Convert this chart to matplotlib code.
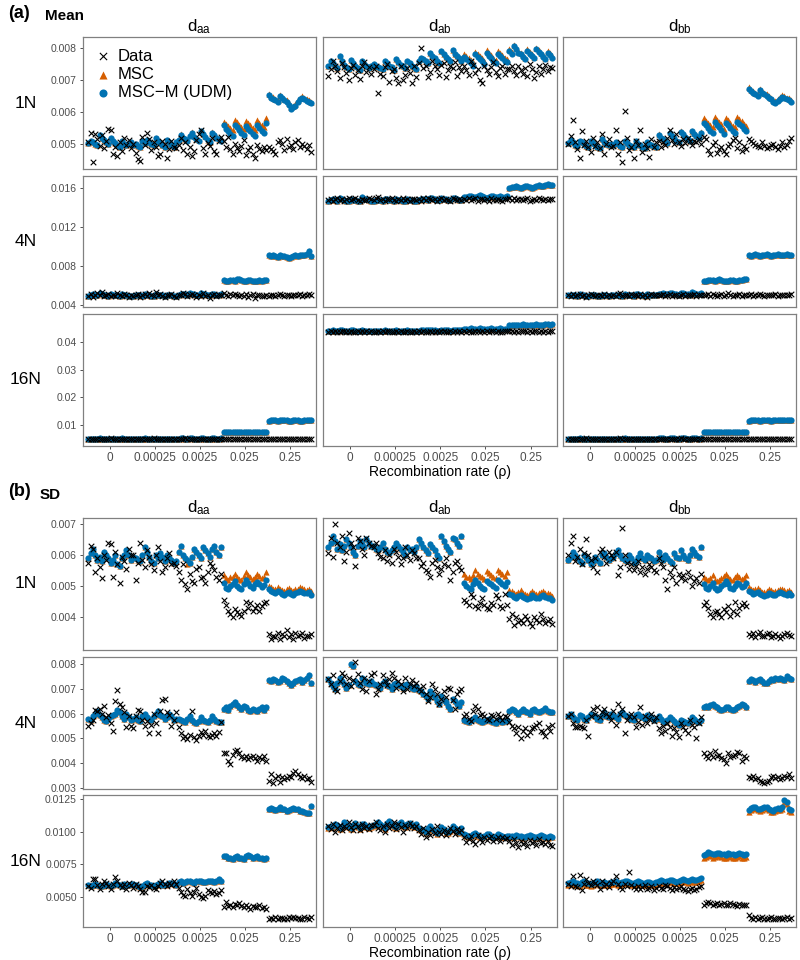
import numpy as np
import matplotlib
matplotlib.use("Agg")
import matplotlib.pyplot as plt

plt.rcParams['font.family'] = ['Liberation Sans', 'DejaVu Sans']
plt.rcParams['mathtext.default'] = 'regular'

groups = ['0', '0.00025', '0.0025', '0.025', '0.25']
n_per = 20
rows = ['1N', '4N', '16N']
cols = ['aa', 'ab', 'bb']

# values are in units of 1e-5, 20 points per recombination rate group

# ---------------- Mean ----------------
mean_1N_aa_data = [
    505, 535, 445, 532, 515, 495, 528, 488, 510, 548, 545, 470, 490, 462, 505, 478, 520, 497, 512, 486,
    500, 472, 452, 446, 523, 498, 535, 515, 480, 505, 490, 462, 470, 508, 500, 455, 485, 510, 492, 488,
    496, 520, 480, 505, 470, 490, 462, 478, 512, 530, 545, 488, 470, 502, 495, 520, 478, 468, 508, 522,
    510, 492, 522, 485, 470, 500, 488, 478, 495, 512, 465, 482, 490, 470, 455, 498, 485, 478, 490, 482,
    490, 485, 478, 470, 505, 512, 500, 480, 515, 492, 498, 485, 505, 512, 490, 500, 495, 485, 498, 475]
mean_1N_aa_mscm = [
    502, 510, 505, 500, 498, 528, 520, 512, 505, 500, 518, 510, 502, 496, 490, 508, 500, 496, 502, 505,
    496, 500, 495, 492, 508, 504, 512, 505, 500, 496, 520, 510, 502, 497, 490, 512, 505, 498, 492, 505,
    512, 528, 520, 515, 510, 525, 535, 522, 515, 510, 540, 530, 522, 512, 505, 535, 528, 520, 515, 510,
    558, 548, 540, 532, 525, 560, 552, 545, 535, 528, 555, 548, 540, 532, 524, 560, 550, 542, 535, 565,
    652, 645, 640, 638, 632, 650, 643, 637, 630, 622, 610, 615, 620, 632, 640, 645, 640, 635, 632, 628]
mean_1N_aa_msc = [
    502, 510, 505, 500, 498, 528, 520, 512, 505, 500, 518, 510, 502, 496, 490, 508, 500, 496, 502, 505,
    496, 500, 495, 492, 508, 504, 512, 505, 500, 496, 520, 510, 502, 497, 490, 512, 505, 498, 492, 505,
    514, 530, 522, 517, 512, 527, 537, 524, 517, 512, 542, 532, 524, 514, 507, 537, 530, 522, 517, 512,
    570, 562, 556, 550, 545, 575, 568, 560, 552, 548, 572, 565, 558, 550, 545, 575, 566, 560, 552, 582,
    656, 650, 646, 642, 638, 654, 648, 642, 636, 628, 616, 620, 626, 636, 644, 649, 645, 640, 636, 632]

mean_1N_ab_data = [
    712, 735, 760, 745, 728, 705, 752, 740, 722, 700, 738, 748, 715, 730, 702, 742, 755, 725, 740, 718,
    735, 745, 660, 720, 712, 740, 750, 695, 728, 735, 705, 690, 745, 700, 715, 738, 722, 690, 745, 710,
    752, 800, 738, 745, 710, 725, 760, 742, 735, 715, 748, 752, 708, 730, 745, 738, 755, 712, 740, 728,
    742, 730, 715, 760, 748, 722, 735, 700, 690, 745, 730, 718, 740, 755, 725, 712, 738, 745, 720, 735,
    735, 742, 728, 715, 745, 730, 720, 738, 712, 750, 735, 705, 725, 742, 718, 735, 748, 728, 740, 738]
mean_1N_ab_mscm = [
    745, 760, 752, 742, 738, 775, 758, 748, 740, 735, 762, 752, 745, 738, 730, 758, 750, 742, 738, 745,
    750, 745, 740, 738, 735, 758, 752, 745, 740, 732, 765, 755, 748, 742, 736, 760, 752, 745, 740, 735,
    760, 770, 765, 758, 752, 785, 775, 768, 760, 752, 790, 780, 772, 765, 758, 792, 782, 775, 768, 760,
    772, 765, 758, 752, 745, 780, 772, 765, 758, 750, 785, 776, 768, 760, 752, 782, 775, 768, 760, 755,
    790, 782, 805, 795, 785, 780, 772, 765, 790, 782, 775, 768, 795, 788, 780, 772, 765, 785, 778, 770]
mean_1N_ab_msc = [
    745, 760, 752, 742, 738, 775, 758, 748, 740, 735, 762, 752, 745, 738, 730, 758, 750, 742, 738, 745,
    750, 745, 740, 738, 735, 758, 752, 745, 740, 732, 765, 755, 748, 742, 736, 760, 752, 745, 740, 735,
    760, 770, 765, 758, 752, 785, 775, 768, 760, 752, 790, 780, 772, 765, 758, 792, 782, 775, 768, 760,
    780, 774, 768, 762, 756, 788, 781, 774, 767, 760, 793, 785, 777, 770, 762, 790, 784, 777, 770, 764,
    795, 787, 810, 800, 790, 785, 777, 770, 795, 787, 780, 773, 800, 793, 785, 777, 770, 790, 783, 775]

mean_1N_bb_data = [
    500, 525, 575, 505, 485, 455, 540, 498, 510, 490, 475, 520, 495, 505, 488, 530, 470, 500, 515, 492,
    495, 545, 470, 505, 445, 603, 520, 480, 492, 455, 510, 498, 545, 475, 500, 488, 460, 515, 490, 505,
    510, 492, 505, 498, 520, 545, 512, 500, 530, 505, 495, 515, 502, 520, 508, 498, 510, 505, 515, 500,
    522, 515, 480, 470, 498, 505, 472, 485, 490, 478, 468, 495, 500, 512, 520, 488, 505, 478, 495, 485,
    515, 508, 502, 498, 495, 490, 505, 495, 488, 492, 498, 500, 490, 485, 495, 505, 492, 498, 510, 520]
mean_1N_bb_mscm = [
    502, 512, 505, 498, 495, 510, 505, 500, 495, 492, 508, 502, 498, 492, 488, 515, 505, 500, 496, 500,
    498, 505, 500, 495, 492, 510, 502, 498, 494, 490, 508, 500, 496, 492, 488, 505, 500, 497, 494, 492,
    528, 520, 515, 508, 502, 535, 525, 518, 510, 505, 538, 530, 522, 515, 508, 540, 532, 525, 518, 535,
    565, 558, 550, 542, 535, 568, 560, 552, 545, 530, 565, 558, 550, 540, 535, 570, 562, 555, 548, 540,
    672, 665, 660, 655, 650, 668, 660, 655, 650, 645, 640, 632, 628, 635, 642, 648, 645, 640, 638, 632]
mean_1N_bb_msc = [
    502, 512, 505, 498, 495, 510, 505, 500, 495, 492, 508, 502, 498, 492, 488, 515, 505, 500, 496, 500,
    498, 505, 500, 495, 492, 510, 502, 498, 494, 490, 508, 500, 496, 492, 488, 505, 500, 497, 494, 492,
    530, 522, 517, 510, 504, 537, 527, 520, 512, 507, 540, 532, 524, 517, 510, 542, 534, 527, 520, 537,
    580, 573, 566, 558, 552, 583, 576, 568, 561, 548, 580, 574, 566, 557, 552, 585, 577, 571, 564, 556,
    677, 670, 665, 660, 655, 673, 665, 660, 655, 650, 645, 637, 633, 640, 647, 653, 650, 645, 643, 637]

mean_4N_aa_data = [
    495, 510, 485, 505, 520, 498, 530, 490, 502, 515, 488, 508, 495, 520, 505, 490, 512, 498, 485, 505,
    490, 505, 515, 480, 498, 510, 492, 520, 505, 488, 530, 500, 512, 495, 485, 505, 498, 510, 490, 480,
    505, 498, 520, 512, 490, 505, 515, 498, 485, 508, 495, 520, 488, 502, 470, 498, 510, 492, 505, 498,
    520, 505, 495, 510, 498, 515, 502, 490, 508, 495, 512, 485, 500, 510, 475, 505, 498, 492, 488, 502,
    495, 500, 505, 490, 498, 510, 502, 495, 505, 500, 492, 508, 498, 502, 512, 495, 500, 505, 510, 498]
mean_4N_aa_mscm = [
    490, 500, 510, 505, 498, 520, 512, 505, 500, 495, 515, 508, 502, 498, 492, 510, 505, 500, 496, 490,
    495, 502, 505, 498, 492, 510, 505, 500, 495, 490, 512, 506, 502, 498, 494, 508, 502, 498, 495, 492,
    505, 510, 515, 512, 508, 520, 516, 510, 505, 500, 522, 515, 510, 505, 502, 518, 512, 508, 505, 510,
    655, 645, 650, 660, 652, 648, 665, 670, 658, 650, 645, 660, 655, 648, 642, 650, 655, 648, 652, 660,
    915, 905, 910, 900, 895, 908, 902, 898, 890, 885, 895, 905, 910, 900, 915, 908, 912, 920, 955, 905]

mean_4N_ab_data = [
    1475, 1490, 1465, 1485, 1500, 1478, 1492, 1470, 1488, 1495, 1472, 1485, 1498, 1480, 1468, 1490, 1482, 1475, 1495, 1485,
    1480, 1495, 1510, 1475, 1488, 1470, 1492, 1485, 1500, 1478, 1468, 1490, 1482, 1495, 1475, 1488, 1470, 1485, 1492, 1478,
    1485, 1470, 1495, 1480, 1500, 1488, 1475, 1492, 1468, 1485, 1498, 1478, 1490, 1482, 1470, 1495, 1485, 1478, 1490, 1475,
    1490, 1480, 1495, 1475, 1488, 1500, 1470, 1485, 1492, 1478, 1488, 1465, 1495, 1482, 1475, 1490, 1480, 1470, 1488, 1485,
    1495, 1480, 1500, 1478, 1488, 1492, 1475, 1485, 1498, 1470, 1482, 1490, 1478, 1495, 1485, 1472, 1488, 1480, 1492, 1485]
mean_4N_ab_mscm = [
    1470, 1480, 1488, 1475, 1465, 1495, 1485, 1478, 1470, 1462, 1490, 1482, 1475, 1470, 1465, 1505, 1492, 1485, 1478, 1470,
    1468, 1475, 1482, 1478, 1470, 1490, 1485, 1478, 1472, 1465, 1488, 1480, 1475, 1470, 1466, 1485, 1480, 1475, 1470, 1468,
    1478, 1485, 1492, 1488, 1480, 1500, 1495, 1488, 1482, 1476, 1498, 1492, 1485, 1480, 1475, 1502, 1495, 1488, 1482, 1478,
    1510, 1505, 1515, 1520, 1512, 1505, 1518, 1525, 1515, 1508, 1502, 1512, 1520, 1515, 1505, 1510, 1518, 1512, 1508, 1515,
    1605, 1615, 1610, 1620, 1612, 1600, 1608, 1618, 1625, 1615, 1605, 1612, 1622, 1630, 1618, 1625, 1635, 1640, 1628, 1632]

mean_4N_bb_data = [
    500, 488, 510, 495, 505, 518, 492, 502, 485, 498, 512, 505, 490, 500, 508, 495, 515, 488, 502, 496,
    505, 495, 512, 520, 488, 500, 508, 492, 515, 498, 502, 490, 510, 495, 505, 485, 500, 512, 498, 505,
    498, 505, 510, 492, 500, 515, 488, 502, 508, 495, 500, 512, 490, 505, 498, 502, 510, 495, 500, 508,
    505, 498, 510, 492, 515, 500, 488, 505, 510, 495, 502, 520, 498, 490, 505, 500, 512, 495, 502, 498,
    500, 510, 495, 505, 498, 512, 502, 495, 508, 500, 505, 498, 510, 495, 502, 508, 500, 505, 498, 510]
mean_4N_bb_mscm = [
    500, 505, 498, 502, 495, 510, 506, 500, 496, 492, 508, 502, 498, 495, 490, 505, 502, 498, 495, 500,
    502, 508, 505, 500, 496, 512, 508, 502, 498, 495, 515, 510, 505, 500, 496, 510, 506, 502, 498, 505,
    510, 518, 522, 515, 510, 525, 520, 515, 510, 505, 528, 522, 516, 512, 508, 530, 524, 518, 512, 520,
    650, 645, 655, 660, 652, 645, 658, 665, 655, 648, 642, 650, 658, 652, 645, 650, 655, 660, 668, 662,
    912, 905, 915, 920, 910, 902, 908, 915, 922, 912, 905, 910, 918, 925, 915, 908, 912, 920, 915, 908]

mean_16N_aa_data = [
    498, 505, 492, 510, 500, 495, 508, 502, 490, 505, 512, 498, 502, 495, 508, 500, 492, 505, 498, 510,
    502, 495, 510, 498, 505, 490, 500, 508, 495, 512, 500, 492, 505, 498, 510, 502, 495, 500, 505, 498,
    505, 498, 500, 512, 495, 502, 508, 490, 505, 500, 498, 510, 502, 495, 505, 500, 508, 498, 502, 495,
    500, 508, 495, 502, 490, 505, 498, 510, 500, 495, 505, 492, 500, 508, 498, 502, 495, 505, 500, 498,
    502, 498, 505, 495, 500, 508, 492, 502, 498, 505, 500, 495, 510, 498, 502, 505, 495, 500, 498, 505]
mean_16N_aa_mscm = [
    505, 510, 508, 502, 500, 512, 508, 505, 500, 498, 510, 506, 502, 500, 498, 512, 508, 504, 500, 505,
    502, 506, 510, 505, 500, 512, 508, 504, 500, 498, 510, 506, 503, 500, 497, 508, 505, 502, 500, 504,
    510, 515, 512, 508, 505, 518, 514, 510, 506, 502, 520, 515, 510, 506, 503, 518, 514, 510, 506, 512,
    740, 730, 745, 750, 740, 735, 748, 755, 742, 735, 730, 740, 748, 745, 738, 742, 750, 745, 738, 732,
    1160, 1165, 1170, 1165, 1158, 1162, 1168, 1172, 1165, 1160, 1155, 1162, 1168, 1165, 1160, 1158, 1165, 1170, 1180, 1185]

mean_16N_ab_data = [
    4370, 4385, 4360, 4390, 4375, 4355, 4380, 4395, 4365, 4370, 4388, 4360, 4375, 4392, 4368, 4380, 4362, 4385, 4372, 4378,
    4375, 4360, 4390, 4368, 4382, 4355, 4378, 4395, 4365, 4372, 4385, 4360, 4390, 4375, 4368, 4382, 4358, 4375, 4388, 4370,
    4380, 4365, 4392, 4372, 4360, 4385, 4375, 4368, 4395, 4362, 4378, 4388, 4370, 4355, 4382, 4375, 4390, 4365, 4380, 4372,
    4385, 4370, 4395, 4375, 4362, 4390, 4380, 4368, 4400, 4372, 4385, 4360, 4392, 4378, 4370, 4388, 4375, 4365, 4382, 4390,
    4380, 4395, 4370, 4388, 4362, 4392, 4378, 4400, 4368, 4385, 4372, 4395, 4380, 4365, 4390, 4375, 4385, 4370, 4392, 4378]
mean_16N_ab_mscm = [
    4395, 4410, 4420, 4405, 4390, 4425, 4415, 4405, 4395, 4385, 4430, 4418, 4405, 4395, 4388, 4420, 4410, 4400, 4392, 4400,
    4390, 4402, 4412, 4405, 4395, 4420, 4410, 4400, 4392, 4385, 4418, 4410, 4400, 4392, 4386, 4415, 4405, 4398, 4390, 4395,
    4410, 4420, 4430, 4425, 4415, 4440, 4430, 4420, 4412, 4405, 4445, 4435, 4425, 4415, 4408, 4440, 4430, 4422, 4415, 4425,
    4470, 4460, 4480, 4490, 4475, 4465, 4485, 4495, 4480, 4470, 4460, 4478, 4490, 4482, 4470, 4475, 4488, 4480, 4472, 4485,
    4600, 4615, 4625, 4610, 4600, 4620, 4635, 4625, 4610, 4600, 4615, 4630, 4640, 4625, 4615, 4620, 4635, 4650, 4630, 4640]

mean_16N_bb_data = [
    505, 495, 510, 500, 492, 508, 498, 502, 512, 495, 500, 505, 490, 502, 508, 498, 505, 495, 500, 510,
    498, 505, 500, 512, 495, 502, 508, 490, 505, 500, 495, 510, 502, 498, 505, 492, 500, 508, 498, 502,
    500, 510, 495, 505, 498, 502, 490, 508, 500, 505, 512, 495, 500, 505, 498, 502, 495, 510, 500, 505,
    495, 502, 508, 498, 505, 500, 492, 505, 510, 498, 500, 505, 495, 502, 508, 500, 498, 505, 492, 500,
    500, 505, 498, 502, 495, 510, 500, 498, 505, 492, 502, 508, 500, 495, 505, 500, 510, 498, 502, 495]
mean_16N_bb_mscm = [
    508, 505, 502, 500, 498, 512, 508, 504, 500, 497, 510, 506, 502, 499, 496, 510, 506, 502, 500, 504,
    500, 505, 508, 504, 500, 512, 507, 503, 500, 496, 510, 505, 502, 498, 495, 508, 504, 500, 498, 502,
    512, 516, 514, 510, 506, 520, 516, 512, 508, 504, 522, 517, 512, 508, 505, 520, 516, 512, 508, 515,
    735, 745, 750, 742, 738, 748, 755, 745, 738, 732, 740, 750, 745, 738, 735, 742, 748, 752, 745, 738,
    1155, 1162, 1168, 1175, 1165, 1158, 1162, 1170, 1178, 1168, 1160, 1165, 1172, 1180, 1170, 1162, 1168, 1175, 1182, 1170]

# ---------------- SD ----------------
sd_1N_aa_data = [
    575, 630, 620, 545, 590, 560, 525, 600, 585, 640, 635, 530, 610, 570, 510, 595, 580, 555, 620, 600,
    600, 520, 575, 640, 585, 560, 615, 595, 570, 550, 600, 625, 580, 545, 560, 590, 605, 570, 575, 565,
    545, 520, 570, 505, 490, 540, 515, 510, 555, 560, 525, 530, 510, 545, 575, 565, 550, 530, 520, 540,
    455, 440, 420, 410, 400, 425, 415, 410, 405, 420, 450, 430, 445, 418, 428, 440, 420, 435, 445, 448,
    345, 330, 340, 335, 350, 330, 345, 340, 360, 335, 345, 330, 350, 338, 342, 348, 332, 340, 338, 345]
sd_1N_aa_mscm = [
    590, 605, 620, 600, 585, 595, 580, 610, 600, 590, 575, 585, 600, 570, 565, 590, 600, 615, 600, 585,
    595, 590, 585, 580, 600, 625, 610, 595, 580, 575, 600, 590, 605, 595, 580, 600, 590, 585, 575, 580,
    610, 630, 600, 590, 585, 575, 595, 620, 610, 600, 590, 625, 615, 605, 595, 620, 630, 610, 600, 625,
    510, 495, 490, 500, 505, 515, 500, 495, 490, 505, 520, 510, 500, 495, 505, 512, 505, 498, 502, 520,
    490, 485, 480, 478, 485, 480, 475, 470, 478, 482, 475, 470, 478, 480, 485, 482, 478, 476, 480, 472]
sd_1N_aa_msc = [
    590, 605, 620, 600, 585, 595, 580, 610, 600, 590, 575, 585, 600, 570, 565, 590, 600, 615, 600, 585,
    595, 590, 585, 580, 600, 625, 610, 595, 580, 575, 600, 590, 605, 595, 580, 600, 590, 585, 575, 580,
    610, 630, 600, 590, 570, 575, 595, 620, 610, 600, 590, 625, 615, 605, 595, 620, 630, 610, 600, 625,
    535, 525, 520, 528, 530, 540, 530, 522, 518, 532, 545, 535, 528, 522, 530, 538, 532, 525, 528, 545,
    500, 496, 492, 490, 496, 492, 488, 484, 490, 494, 488, 484, 490, 492, 496, 494, 490, 488, 492, 485]

sd_1N_ab_data = [
    605, 655, 595, 700, 640, 625, 660, 580, 610, 670, 640, 625, 565, 655, 645, 620, 600, 655, 640, 630,
    625, 640, 605, 595, 590, 615, 580, 600, 575, 620, 610, 595, 570, 590, 625, 600, 585, 615, 605, 590,
    590, 565, 575, 550, 545, 530, 575, 585, 560, 540, 555, 570, 590, 565, 520, 545, 575, 580, 560, 550,
    455, 450, 440, 475, 465, 435, 430, 445, 460, 440, 430, 425, 445, 438, 470, 460, 435, 428, 475, 440,
    395, 410, 375, 400, 385, 390, 380, 405, 395, 380, 370, 400, 392, 385, 410, 395, 380, 388, 395, 378]
sd_1N_ab_mscm = [
    625, 640, 660, 645, 620, 635, 615, 630, 650, 640, 625, 610, 600, 630, 645, 635, 625, 650, 640, 630,
    630, 620, 615, 625, 640, 620, 610, 605, 615, 625, 640, 630, 620, 610, 600, 625, 615, 620, 610, 625,
    650, 640, 625, 615, 605, 635, 625, 615, 600, 590, 660, 645, 630, 620, 610, 655, 650, 640, 630, 660,
    510, 500, 495, 490, 505, 520, 510, 500, 495, 490, 515, 510, 505, 500, 495, 520, 512, 505, 500, 512,
    475, 470, 465, 462, 468, 472, 465, 460, 458, 462, 470, 465, 460, 462, 468, 470, 465, 462, 460, 455]
sd_1N_ab_msc = [
    625, 640, 660, 645, 620, 635, 615, 630, 650, 640, 625, 610, 600, 630, 645, 635, 625, 650, 640, 630,
    630, 620, 615, 625, 640, 620, 610, 605, 615, 625, 640, 630, 620, 610, 600, 625, 615, 620, 610, 625,
    650, 640, 625, 615, 605, 635, 625, 615, 600, 590, 660, 645, 630, 620, 610, 655, 650, 640, 630, 660,
    540, 530, 528, 522, 535, 550, 540, 532, 528, 522, 548, 542, 536, 530, 526, 552, 545, 538, 532, 545,
    488, 483, 478, 475, 482, 486, 478, 474, 472, 476, 484, 478, 474, 476, 482, 484, 478, 476, 474, 468]

sd_1N_bb_data = [
    600, 640, 660, 580, 595, 620, 570, 605, 650, 600, 585, 560, 590, 545, 610, 620, 595, 575, 610, 600,
    590, 610, 535, 560, 688, 600, 575, 555, 570, 550, 565, 580, 545, 560, 540, 555, 570, 560, 550, 545,
    590, 575, 560, 520, 490, 545, 530, 560, 510, 540, 525, 535, 520, 545, 530, 500, 515, 525, 510, 540,
    440, 450, 430, 410, 400, 415, 420, 410, 400, 425, 415, 435, 405, 420, 450, 410, 430, 440, 445, 435,
    345, 340, 350, 335, 345, 352, 340, 338, 345, 350, 335, 340, 345, 338, 332, 340, 345, 350, 342, 338]
sd_1N_bb_mscm = [
    585, 595, 610, 600, 590, 580, 575, 600, 595, 585, 570, 580, 595, 585, 575, 600, 605, 595, 585, 590,
    595, 605, 615, 600, 590, 585, 580, 600, 590, 575, 580, 595, 605, 590, 585, 600, 595, 590, 580, 585,
    610, 595, 585, 600, 590, 580, 575, 605, 595, 590, 615, 600, 590, 585, 600, 620, 610, 600, 595, 625,
    505, 495, 490, 500, 510, 495, 488, 492, 500, 505, 515, 505, 495, 490, 500, 510, 505, 498, 500, 510,
    485, 480, 475, 478, 482, 475, 470, 468, 472, 478, 475, 470, 472, 476, 480, 478, 474, 472, 476, 470]
sd_1N_bb_msc = [
    585, 595, 610, 600, 590, 580, 575, 600, 595, 585, 570, 580, 595, 585, 575, 600, 605, 595, 585, 590,
    595, 605, 615, 600, 590, 585, 580, 600, 590, 575, 580, 595, 605, 590, 585, 600, 595, 590, 580, 585,
    610, 595, 585, 600, 590, 580, 575, 605, 595, 590, 615, 600, 590, 585, 600, 620, 610, 600, 595, 625,
    530, 522, 518, 526, 535, 520, 515, 518, 527, 532, 540, 530, 522, 518, 528, 536, 530, 524, 527, 535,
    497, 492, 488, 490, 494, 488, 482, 480, 485, 490, 488, 482, 485, 488, 492, 490, 486, 485, 488, 482]

sd_4N_aa_data = [
    550, 560, 575, 615, 610, 620, 600, 630, 585, 595, 560, 530, 650, 695, 640, 625, 605, 545, 590, 550,
    540, 590, 615, 610, 575, 550, 570, 520, 555, 600, 560, 520, 610, 655, 660, 605, 595, 548, 575, 605,
    545, 520, 502, 510, 498, 512, 610, 505, 495, 508, 525, 515, 530, 510, 505, 515, 520, 510, 525, 565,
    440, 440, 410, 395, 435, 450, 455, 440, 425, 420, 430, 415, 425, 430, 420, 410, 425, 415, 430, 410,
    330, 355, 320, 340, 350, 325, 345, 335, 340, 350, 345, 360, 370, 355, 345, 340, 350, 335, 340, 325]
sd_4N_aa_mscm = [
    580, 575, 590, 600, 610, 595, 585, 575, 570, 580, 590, 595, 600, 615, 605, 590, 580, 600, 585, 575,
    580, 585, 575, 570, 590, 600, 585, 580, 575, 590, 600, 610, 595, 590, 580, 585, 600, 590, 575, 580,
    580, 575, 570, 565, 580, 590, 575, 565, 560, 570, 585, 575, 570, 565, 575, 590, 580, 570, 565, 565,
    620, 625, 615, 630, 640, 645, 635, 625, 620, 630, 625, 615, 610, 620, 615, 610, 620, 625, 615, 625,
    735, 730, 740, 735, 728, 732, 745, 738, 730, 725, 715, 722, 730, 735, 740, 728, 735, 745, 755, 725]

sd_4N_ab_data = [
    740, 720, 755, 700, 690, 730, 765, 750, 720, 745, 710, 735, 808, 760, 725, 700, 745, 690, 730, 755,
    765, 680, 700, 720, 755, 730, 715, 740, 765, 745, 705, 730, 720, 690, 745, 700, 720, 735, 710, 725,
    700, 690, 710, 680, 650, 665, 720, 700, 680, 640, 660, 690, 665, 705, 700, 655, 620, 680, 690, 700,
    590, 600, 580, 570, 610, 630, 620, 595, 600, 590, 580, 575, 595, 590, 580, 600, 585, 575, 590, 585,
    565, 550, 540, 520, 545, 500, 530, 540, 515, 525, 540, 545, 555, 560, 530, 525, 510, 545, 530, 555]
sd_4N_ab_mscm = [
    740, 725, 710, 700, 725, 745, 730, 720, 705, 715, 800, 790, 730, 720, 715, 745, 735, 725, 720, 730,
    720, 715, 710, 705, 725, 730, 715, 710, 700, 720, 725, 715, 710, 705, 715, 720, 710, 705, 700, 710,
    695, 690, 680, 670, 660, 690, 680, 665, 650, 640, 670, 655, 645, 630, 620, 660, 650, 640, 630, 645,
    575, 570, 565, 575, 580, 585, 575, 570, 565, 570, 575, 580, 570, 565, 560, 575, 570, 565, 570, 575,
    610, 620, 615, 605, 600, 612, 618, 610, 605, 600, 615, 620, 612, 605, 610, 615, 622, 610, 608, 605]

sd_4N_bb_data = [
    590, 600, 560, 545, 545, 550, 545, 540, 575, 510, 590, 620, 600, 625, 585, 605, 620, 600, 590, 575,
    610, 555, 640, 600, 620, 520, 575, 590, 600, 585, 545, 565, 625, 555, 590, 560, 580, 600, 570, 585,
    540, 520, 550, 530, 560, 545, 510, 540, 525, 505, 560, 545, 535, 520, 575, 555, 545, 500, 560, 585,
    440, 430, 420, 440, 425, 450, 430, 435, 420, 415, 400, 440, 425, 430, 435, 445, 440, 410, 430, 420,
    345, 340, 350, 335, 340, 330, 325, 320, 325, 330, 345, 350, 340, 345, 335, 340, 350, 345, 355, 340]
sd_4N_bb_mscm = [
    590, 600, 585, 580, 575, 595, 590, 580, 575, 585, 600, 595, 590, 580, 575, 595, 605, 590, 585, 600,
    590, 585, 580, 600, 605, 595, 590, 585, 580, 575, 595, 600, 590, 585, 580, 595, 590, 585, 575, 580,
    590, 580, 570, 565, 575, 585, 580, 570, 560, 555, 575, 570, 565, 560, 570, 585, 580, 570, 565, 575,
    625, 630, 628, 635, 640, 630, 625, 620, 615, 620, 628, 625, 620, 615, 620, 628, 632, 640, 635, 625,
    730, 740, 735, 728, 735, 740, 732, 725, 722, 730, 738, 735, 742, 738, 745, 740, 735, 750, 745, 738]

sd_16N_aa_data = [
    585, 570, 640, 640, 590, 560, 600, 620, 605, 580, 560, 600, 655, 620, 590, 575, 600, 560, 610, 595,
    570, 600, 585, 560, 540, 540, 580, 575, 595, 570, 560, 585, 605, 625, 600, 580, 605, 595, 620, 600,
    570, 540, 515, 505, 560, 530, 505, 540, 570, 520, 500, 490, 510, 555, 540, 530, 545, 520, 530, 555,
    420, 465, 430, 440, 420, 445, 435, 450, 430, 425, 440, 420, 410, 430, 425, 420, 440, 415, 425, 410,
    335, 340, 330, 345, 335, 338, 342, 330, 335, 345, 340, 350, 338, 342, 335, 330, 345, 340, 335, 345]
sd_16N_aa_mscm = [
    590, 585, 595, 600, 590, 585, 580, 595, 600, 590, 585, 595, 605, 600, 590, 585, 600, 595, 590, 600,
    600, 590, 580, 575, 585, 600, 605, 595, 590, 585, 595, 600, 605, 595, 590, 600, 605, 610, 600, 595,
    615, 620, 610, 615, 620, 625, 615, 610, 620, 625, 620, 615, 618, 622, 625, 620, 615, 620, 635, 625,
    815, 810, 800, 795, 790, 805, 810, 800, 795, 790, 815, 820, 810, 800, 805, 810, 800, 795, 790, 800,
    1170, 1180, 1175, 1165, 1170, 1185, 1175, 1170, 1160, 1165, 1175, 1180, 1175, 1170, 1160, 1155, 1150, 1145, 1140, 1195]

sd_16N_ab_data = [
    1040, 1020, 1060, 1000, 1030, 1050, 1010, 1045, 1025, 1070, 1035, 1015, 1055, 1040, 1010, 1060, 1030, 1045, 1020, 1050,
    1050, 1070, 1030, 1010, 1045, 1000, 1060, 1025, 1040, 1075, 1020, 1055, 1035, 1000, 1050, 1030, 1065, 1040, 1025, 1045,
    1010, 985, 1030, 960, 1000, 975, 1020, 990, 1045, 1000, 985, 1015, 975, 995, 1030, 1005, 980, 1020, 995, 1010,
    955, 920, 940, 965, 930, 905, 975, 945, 920, 960, 935, 950, 970, 925, 945, 960, 930, 955, 940, 950,
    925, 900, 945, 915, 880, 930, 905, 920, 890, 935, 910, 925, 895, 940, 915, 920, 905, 930, 900, 890]
sd_16N_ab_mscm = [
    1035, 1045, 1040, 1060, 1050, 1030, 1045, 1070, 1055, 1040, 1025, 1050, 1065, 1045, 1030, 1055, 1060, 1040, 1035, 1045,
    1050, 1060, 1075, 1055, 1040, 1030, 1065, 1080, 1060, 1045, 1035, 1055, 1070, 1050, 1040, 1060, 1065, 1050, 1045, 1055,
    1030, 1020, 1010, 1000, 1025, 1040, 1020, 1005, 990, 1010, 1035, 1020, 1000, 995, 1015, 1045, 1030, 1010, 1000, 1025,
    985, 975, 965, 970, 980, 990, 975, 965, 960, 970, 985, 978, 968, 962, 970, 980, 975, 965, 960, 968,
    970, 965, 960, 975, 970, 965, 958, 962, 970, 975, 968, 962, 958, 965, 972, 970, 962, 958, 965, 960]
sd_16N_ab_msc = [
    1027, 1037, 1032, 1052, 1042, 1022, 1037, 1062, 1047, 1032, 1017, 1042, 1057, 1037, 1022, 1047, 1052, 1032, 1027, 1037,
    1042, 1052, 1067, 1047, 1032, 1022, 1057, 1072, 1052, 1037, 1027, 1047, 1062, 1042, 1032, 1052, 1057, 1042, 1037, 1047,
    1022, 1012, 1002, 992, 1017, 1032, 1012, 997, 982, 1002, 1027, 1012, 992, 987, 1007, 1037, 1022, 1002, 992, 1017,
    980, 970, 960, 965, 975, 985, 970, 960, 955, 965, 980, 973, 963, 957, 965, 975, 970, 960, 955, 963,
    965, 960, 955, 970, 965, 960, 953, 957, 965, 970, 963, 957, 953, 960, 967, 965, 957, 953, 960, 955]

sd_16N_bb_data = [
    600, 585, 660, 580, 575, 665, 555, 600, 640, 610, 590, 625, 605, 595, 560, 620, 580, 600, 575, 610,
    620, 660, 600, 575, 560, 600, 580, 690, 595, 575, 560, 580, 560, 575, 590, 560, 565, 580, 555, 570,
    585, 570, 560, 590, 580, 565, 555, 575, 560, 570, 580, 560, 555, 545, 560, 570, 555, 560, 575, 580,
    440, 455, 460, 450, 435, 445, 450, 440, 445, 455, 440, 435, 450, 445, 440, 430, 445, 440, 435, 435,
    360, 340, 335, 345, 330, 340, 345, 335, 330, 340, 345, 335, 330, 340, 338, 335, 340, 350, 335, 340]
sd_16N_bb_mscm = [
    605, 615, 620, 610, 605, 600, 615, 620, 610, 605, 600, 610, 615, 620, 610, 605, 615, 610, 605, 612,
    615, 620, 610, 605, 612, 620, 625, 615, 610, 605, 615, 620, 612, 608, 605, 612, 618, 610, 605, 612,
    625, 630, 620, 618, 625, 632, 628, 622, 618, 625, 630, 635, 628, 625, 630, 635, 632, 628, 640, 645,
    820, 830, 845, 835, 825, 830, 840, 835, 830, 825, 820, 835, 830, 825, 820, 830, 835, 825, 820, 830,
    1165, 1180, 1190, 1185, 1175, 1170, 1180, 1190, 1185, 1175, 1165, 1160, 1170, 1180, 1175, 1185, 1240, 1225, 1170, 1165]
sd_16N_bb_msc = [
    590, 600, 605, 595, 590, 585, 600, 605, 595, 590, 585, 595, 600, 605, 595, 590, 600, 595, 590, 597,
    600, 605, 595, 590, 597, 605, 610, 600, 595, 590, 600, 605, 597, 593, 590, 597, 603, 595, 590, 597,
    610, 615, 605, 603, 610, 617, 613, 607, 603, 610, 615, 620, 613, 610, 615, 620, 617, 613, 625, 630,
    795, 805, 820, 810, 800, 805, 815, 810, 805, 800, 795, 810, 805, 800, 795, 805, 810, 800, 795, 805,
    1153, 1168, 1178, 1173, 1163, 1158, 1168, 1178, 1173, 1163, 1153, 1148, 1158, 1168, 1163, 1173, 1228, 1213, 1158, 1153]

# MSC hidden under MSC-M in the facets that reuse the MSC-M list
panels = {
    ('mean', '1N', 'aa'): (mean_1N_aa_data, mean_1N_aa_msc, mean_1N_aa_mscm),
    ('mean', '1N', 'ab'): (mean_1N_ab_data, mean_1N_ab_msc, mean_1N_ab_mscm),
    ('mean', '1N', 'bb'): (mean_1N_bb_data, mean_1N_bb_msc, mean_1N_bb_mscm),
    ('mean', '4N', 'aa'): (mean_4N_aa_data, mean_4N_aa_mscm, mean_4N_aa_mscm),
    ('mean', '4N', 'ab'): (mean_4N_ab_data, mean_4N_ab_mscm, mean_4N_ab_mscm),
    ('mean', '4N', 'bb'): (mean_4N_bb_data, mean_4N_bb_mscm, mean_4N_bb_mscm),
    ('mean', '16N', 'aa'): (mean_16N_aa_data, mean_16N_aa_mscm, mean_16N_aa_mscm),
    ('mean', '16N', 'ab'): (mean_16N_ab_data, mean_16N_ab_mscm, mean_16N_ab_mscm),
    ('mean', '16N', 'bb'): (mean_16N_bb_data, mean_16N_bb_mscm, mean_16N_bb_mscm),
    ('sd', '1N', 'aa'): (sd_1N_aa_data, sd_1N_aa_msc, sd_1N_aa_mscm),
    ('sd', '1N', 'ab'): (sd_1N_ab_data, sd_1N_ab_msc, sd_1N_ab_mscm),
    ('sd', '1N', 'bb'): (sd_1N_bb_data, sd_1N_bb_msc, sd_1N_bb_mscm),
    ('sd', '4N', 'aa'): (sd_4N_aa_data, sd_4N_aa_mscm, sd_4N_aa_mscm),
    ('sd', '4N', 'ab'): (sd_4N_ab_data, sd_4N_ab_mscm, sd_4N_ab_mscm),
    ('sd', '4N', 'bb'): (sd_4N_bb_data, sd_4N_bb_mscm, sd_4N_bb_mscm),
    ('sd', '16N', 'aa'): (sd_16N_aa_data, sd_16N_aa_mscm, sd_16N_aa_mscm),
    ('sd', '16N', 'ab'): (sd_16N_ab_data, sd_16N_ab_msc, sd_16N_ab_mscm),
    ('sd', '16N', 'bb'): (sd_16N_bb_data, sd_16N_bb_msc, sd_16N_bb_mscm),
}

# axis settings per row
ylims = {
    ('mean', '1N'): (0.00422, 0.00834), ('mean', '4N'): (0.0038, 0.01723), ('mean', '16N'): (0.0024, 0.0501),
    ('sd', '1N'): (0.00294, 0.00719), ('sd', '4N'): (0.00296, 0.00828), ('sd', '16N'): (0.0027, 0.0128),
}
yticks = {
    ('mean', '1N'): ([0.005, 0.006, 0.007, 0.008], ['0.005', '0.006', '0.007', '0.008']),
    ('mean', '4N'): ([0.004, 0.008, 0.012, 0.016], ['0.004', '0.008', '0.012', '0.016']),
    ('mean', '16N'): ([0.01, 0.02, 0.03, 0.04], ['0.01', '0.02', '0.03', '0.04']),
    ('sd', '1N'): ([0.004, 0.005, 0.006, 0.007], ['0.004', '0.005', '0.006', '0.007']),
    ('sd', '4N'): ([0.003, 0.004, 0.005, 0.006, 0.007, 0.008], ['0.003', '0.004', '0.005', '0.006', '0.007', '0.008']),
    ('sd', '16N'): ([0.005, 0.0075, 0.01, 0.0125], ['0.0050', '0.0075', '0.0100', '0.0125']),
}

W, H = 800, 960
col_px = [(83, 316), (323, 557), (563, 796)]
row_px = {'mean': [(37, 169), (176, 307), (314, 446)],
          'sd': [(518, 650), (657, 789), (795, 927)]}

c_data = 'black'
c_msc = '#D55E00'
c_mscm = '#0072B2'

offsets = np.linspace(-0.47, 0.47, n_per)
xpos = np.concatenate([g + 1 + offsets for g in range(len(groups))])

fig = plt.figure(figsize=(W / 100, H / 100), dpi=100)


def px_axes(x0, x1, y0, y1):
    return fig.add_axes([x0 / W, 1 - y1 / H, (x1 - x0) / W, (y1 - y0) / H])


for stat in ['mean', 'sd']:
    for ri, r in enumerate(rows):
        y0, y1 = row_px[stat][ri]
        for ci, c in enumerate(cols):
            x0, x1 = col_px[ci]
            ax = px_axes(x0, x1, y0, y1)
            data, msc, mscm = panels[(stat, r, c)]
            ax.scatter(xpos, np.array(msc) / 1e5, marker='^', s=20, color=c_msc,
                       linewidths=0, zorder=2, label='MSC')
            ax.scatter(xpos, np.array(mscm) / 1e5, marker='o', s=20, color=c_mscm,
                       linewidths=0, zorder=3, label='MSC\u2212M (UDM)')
            ax.scatter(xpos, np.array(data) / 1e5, marker='x', s=16, color=c_data,
                       linewidths=0.8, zorder=4, label='Data')
            ax.set_xlim(0.41, 5.58)
            ax.set_ylim(*ylims[(stat, r)])
            for sp in ax.spines.values():
                sp.set_color('#808080')
                sp.set_linewidth(0.9)
            ax.tick_params(length=2.5, width=0.6, color='#333333',
                           labelsize=7.5, labelcolor='#4d4d4d', pad=2)
            if ci == 0:
                tv, tl = yticks[(stat, r)]
                ax.set_yticks(tv)
                ax.set_yticklabels(tl)
                fig.text(26 / W, 1 - (y0 + y1) / 2 / H, r, fontsize=12.5,
                         ha='center', va='center')
            else:
                ax.set_yticks([])
            if ri == 2:
                ax.set_xticks(range(1, 6))
                ax.set_xticklabels(groups, fontsize=8.5)
            else:
                ax.set_xticks([])
            if ri == 0:
                ax.set_title('d$_{%s}$' % c, fontsize=12, pad=4)
            if stat == 'mean' and ri == 0 and ci == 0:
                h, l = ax.get_legend_handles_labels()
                order = [2, 0, 1]
                ax.legend([h[i] for i in order], [l[i] for i in order],
                          loc='upper left', frameon=False, fontsize=12,
                          handlelength=1.0, handletextpad=0.4, labelspacing=0.2,
                          borderaxespad=0.5, markerscale=1.3,
                          borderpad=0.2)
    yb = row_px[stat][2][1]
    fig.text((col_px[1][0] + col_px[1][1]) / 2 / W, 1 - (yb + 26) / H,
             'Recombination rate (\u03c1)', fontsize=10, ha='center', va='center')

fig.text(8 / W, 1 - 14 / H, '(a)', fontsize=13, fontweight='bold', va='center')
fig.text(45 / W, 1 - 16 / H, 'Mean', fontsize=11, fontweight='bold', va='center')
fig.text(8 / W, 1 - 492 / H, '(b)', fontsize=13, fontweight='bold', va='center')
fig.text(40 / W, 1 - 495 / H, 'SD', fontsize=11, fontweight='bold', va='center')

fig.savefig('out.png', dpi=100)
